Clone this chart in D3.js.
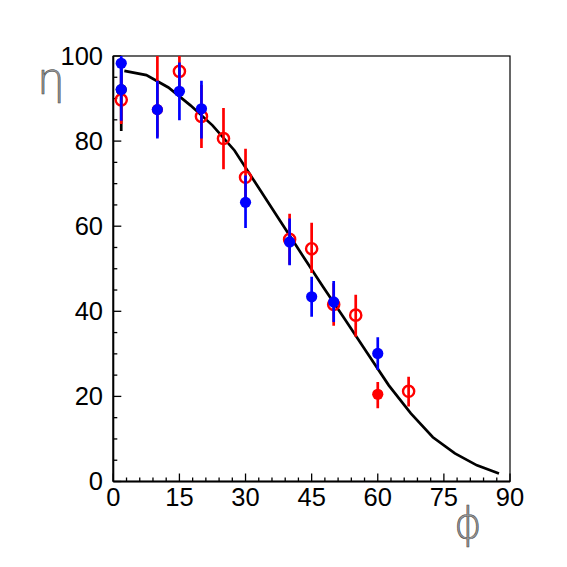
<!DOCTYPE html>
<html><head><meta charset="utf-8">
<script src="https://cdn.jsdelivr.net/npm/d3@7"></script>
<style>body{margin:0;background:#fff}svg{display:block}</style>
</head><body>
<script>
// ---- data ----
const curveX = [2.5,7.5,12.5,17.5,22.5,27.5,32.5,37.5,42.5,47.5,52.5,57.5,62.5,67.5,72.5,77.5,82.5,87.5];
const curveY = [96.5,95.5,92.6,88.4,83.7,77.8,69.8,61.8,53.8,45.9,38.2,30.4,22.6,16.0,10.4,6.6,3.8,1.9];

// blue filled points: x, y, low, high
const blueX  = [1.8, 1.8, 10, 15, 20, 30, 40, 45, 50, 60];
const blueY  = [98.3, 92.1, 87.4, 91.7, 87.6, 65.6, 56.3, 43.4, 42.2, 30.1];
const blueLo = [92.0, 84.8, 80.6, 84.9, 80.6, 59.6, 50.8, 38.7, 37.5, 26.2];
const blueHi = [102, 98.8, 94.2, 98.5, 94.2, 71.9, 61.8, 48.1, 47.1, 33.9];

// red open points
const redOX  = [1.8, 15, 20, 25, 30, 40, 45, 50, 55, 67];
const redOY  = [89.7, 96.4, 85.8, 80.6, 71.5, 56.9, 54.7, 41.6, 39.1, 21.2];
const redOLo = [84.0, 91.4, 78.4, 73.4, 64.8, 51.0, 49.0, 36.6, 34.0, 17.6];
const redOHi = [95.4, 101.4, 93.2, 87.8, 78.2, 62.9, 60.8, 46.6, 43.9, 24.6];

// red filled points
const redFX  = [10, 60];
const redFY  = [87.4, 20.5];
const redFLo = [81.0, 17.2];
const redFHi = [101, 23.4];

// black points
const blkX  = [1.8];
const blkY  = [92.1];
const blkLo = [82.4];
const blkHi = [98];

const xTicks = [0,15,30,45,60,75,90];
const yTicks = [0,20,40,60,80,100];

// ---- drawing ----
const W = 567, H = 567;
const svg = d3.select("body").append("svg").attr("width", W).attr("height", H);
const x = d3.scaleLinear().domain([0,90]).range([113.3,510]);
const y = d3.scaleLinear().domain([0,100]).range([481.5,56]);

svg.append("clipPath").attr("id","clip").append("rect")
  .attr("x",113.3).attr("y",56).attr("width",510-113.3).attr("height",481.5-56);

// frame (top/right)
svg.append("rect").attr("x",113.3).attr("y",56).attr("width",510-113.3).attr("height",481.5-56)
  .attr("fill","none").attr("stroke","#000").attr("stroke-width",1.2);

const tickFont = "Liberation Sans, Arial, sans-serif";
const gx = svg.append("g").attr("transform","translate(0,481.5)");
gx.append("line").attr("x1",113.3).attr("x2",510).attr("stroke","#000").attr("stroke-width",2);
gx.selectAll("line.t").data(d3.range(0,91,3)).join("line").attr("class","t")
  .attr("x1",d=>x(d)).attr("x2",d=>x(d)).attr("y1",0)
  .attr("y2",d=> xTicks.includes(d)? -8 : -4).attr("stroke","#000").attr("stroke-width",1.3);
gx.selectAll("text").data(xTicks).join("text")
  .attr("x",d=>x(d)).attr("y",24.5).attr("text-anchor","middle")
  .attr("font-family",tickFont).attr("font-size",25.5)
  .text(d=>d);

const gy = svg.append("g");
gy.append("line").attr("x1",113.3).attr("x2",113.3).attr("y1",56).attr("y2",481.5).attr("stroke","#000").attr("stroke-width",2);
gy.selectAll("line.t").data(d3.range(0,101,5)).join("line").attr("class","t")
  .attr("x1",113.3).attr("x2",d=> 113.3 + (yTicks.includes(d)? 8 : 4))
  .attr("y1",d=>y(d)).attr("y2",d=>y(d)).attr("stroke","#000").attr("stroke-width",1.3);
gy.selectAll("text").data(yTicks).join("text")
  .attr("x",103).attr("y",d=>y(d)).attr("dy","0.35em").attr("text-anchor","end")
  .attr("font-family",tickFont).attr("font-size",25.5)
  .text(d=>d);

// axis titles
svg.append("text").attr("x",37).attr("y",94)
  .attr("font-family","DejaVu Sans, sans-serif").attr("font-weight",200).attr("font-size",44)
  .attr("fill","#9a9a9a").attr("stroke","#444").attr("stroke-width",0.6)
  .text("η");
svg.append("text").attr("x",454).attr("y",538)
  .attr("font-family","DejaVu Sans, sans-serif").attr("font-weight",200).attr("font-size",42)
  .attr("fill","#9a9a9a").attr("stroke","#444").attr("stroke-width",0.6)
  .text("ϕ");

const plot = svg.append("g").attr("clip-path","url(#clip)");

// curve
const line = d3.line().x(d=>x(d[0])).y(d=>y(d[1]));
plot.append("path").datum(d3.zip(curveX, curveY)).attr("d", line)
  .attr("fill","none").attr("stroke","#000").attr("stroke-width",2.7);

function series(X, Y, Lo, Hi, color, filled) {
  const data = X.map((v,i)=>({x:v, y:Y[i], lo:Lo[i], hi:Hi[i]}));
  const g = plot.append("g");
  g.selectAll("line").data(data).join("line")
    .attr("x1",d=>x(d.x)).attr("x2",d=>x(d.x))
    .attr("y1",d=>y(d.lo)).attr("y2",d=>y(d.hi))
    .attr("stroke",color).attr("stroke-width",2.7);
  g.selectAll("circle").data(data).join("circle")
    .attr("cx",d=>x(d.x)).attr("cy",d=>y(d.y))
    .attr("r", filled ? 5.6 : 5.6)
    .attr("fill", filled ? color : "none")
    .attr("stroke", filled ? "none" : color)
    .attr("stroke-width", 2.4);
}
series(blkX, blkY, blkLo, blkHi, "#000", true);
series(redFX, redFY, redFLo, redFHi, "#ff0000", true);
series(redOX, redOY, redOLo, redOHi, "#ff0000", false);
series(blueX, blueY, blueLo, blueHi, "#0000ff", true);
</script>
</body></html>
